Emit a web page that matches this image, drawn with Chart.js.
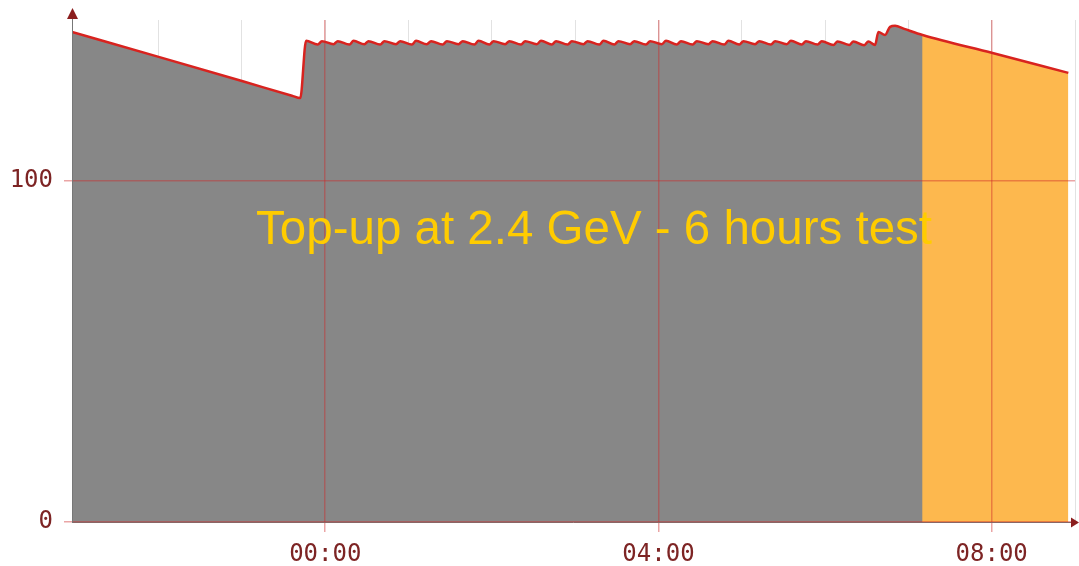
<!DOCTYPE html>
<html>
<head>
  <meta charset="UTF-8">
  <title>Top-up at 2.4 GeV</title>
  <script src="https://cdn.jsdelivr.net/npm/chart.js"></script>
  <style>
    body { margin: 0; background: #fff; }
    #wrap { width: 1079px; height: 566px; }
  </style>
</head>
<body>
  <div id="wrap"><canvas id="beamChart" width="1079" height="566"></canvas></div>

  <script>
    // Time in hours relative to 00:00, beam current (mA)
    const hours = [
      -3.04, -2.00, -1.00, -0.40, -0.30, -0.23,
      -0.09, -0.04, 0.10, 0.15, 0.29, 0.34, 0.47, 0.52, 0.66, 0.71, 0.85, 0.90,
      1.04, 1.09, 1.22, 1.27, 1.41, 1.46, 1.60, 1.65, 1.79, 1.84, 1.97, 2.02,
      2.16, 2.21, 2.35, 2.40, 2.54, 2.59, 2.72, 2.77, 2.91, 2.96, 3.10, 3.15,
      3.29, 3.34, 3.47, 3.52, 3.66, 3.71, 3.85, 3.90, 4.04, 4.09, 4.22, 4.27,
      4.41, 4.46, 4.60, 4.65, 4.79, 4.84, 4.97, 5.02, 5.16, 5.21, 5.35, 5.40,
      5.54, 5.59, 5.72, 5.77, 5.91, 5.96, 6.10, 6.15, 6.29, 6.34, 6.47, 6.52,
      6.60, 6.64, 6.72, 6.78, 6.84, 6.95, 7.17, 8.01, 8.92
    ];
    const current = [
      143.7, 136.4, 129.3, 125.0, 124.3, 141.1,
      140.0, 141.0, 140.1, 141.0, 140.0, 141.1, 140.1, 141.0, 140.0, 141.0, 140.1, 141.0,
      140.0, 141.1, 140.1, 141.0, 140.0, 141.0, 140.1, 141.0, 140.0, 141.1, 140.0, 141.0,
      140.1, 141.0, 140.0, 141.0, 140.1, 141.1, 140.0, 141.0, 140.0, 141.0, 140.1, 141.0,
      140.0, 141.1, 140.0, 141.0, 140.1, 141.0, 140.0, 141.0, 140.1, 141.1, 140.0, 141.0,
      140.0, 141.0, 140.1, 141.0, 140.0, 141.1, 140.0, 141.0, 140.1, 141.0, 140.0, 141.0,
      140.1, 141.1, 140.0, 141.0, 140.0, 141.0, 139.9, 140.9, 139.9, 140.9, 139.8, 140.9,
      139.9, 143.7, 142.8, 145.2, 145.5, 144.6, 142.8, 137.5, 131.7
    ];
    const testStart = 7.17;           // end of normal run, start of highlighted part
    const majorHours = [0, 4, 8];
    const minorHours = [-2, -1, 0, 1, 2, 3, 4, 5, 6, 7, 8, 9];
    const yTicks = [0, 100];
    const xMin = -3.04, xMax = 9.0, yMax = 147.2;
    const noteText = "Top-up at 2.4 GeV - 6 hours test";
    const notePos = { x: -0.83, y: 81.5 };

    const tickColor = "#7d2424";
    const majorGrid = "rgba(205, 40, 40, 0.42)";

    const allPoints = hours.map((h, i) => ({ x: h, y: current[i] }));
    const runPoints = allPoints.filter(p => p.x <= testStart);

    function hhmm(v) {
      const h = ((v % 24) + 24) % 24;
      return String(h).padStart(2, "0") + ":00";
    }

    // arrows on the axes and the note text
    const decorations = {
      id: "decorations",
      afterDraw(chart) {
        const ctx = chart.ctx;
        const a = chart.chartArea;
        ctx.save();
        ctx.strokeStyle = "#777";
        ctx.lineWidth = 1;
        ctx.beginPath();
        ctx.moveTo(a.left + 0.5, a.top);
        ctx.lineTo(a.left + 0.5, 14);
        ctx.stroke();
        ctx.fillStyle = "#8b1e1e";
        ctx.beginPath();
        ctx.moveTo(a.left + 0.5, 8);
        ctx.lineTo(a.left - 5, 19);
        ctx.lineTo(a.left + 6, 19);
        ctx.closePath();
        ctx.fill();
        ctx.beginPath();
        ctx.moveTo(1079, a.bottom + 0.5);
        ctx.lineTo(1071, a.bottom - 4.5);
        ctx.lineTo(1071, a.bottom + 5.5);
        ctx.closePath();
        ctx.fill();

        const xs = chart.scales.x, ys = chart.scales.y;
        ctx.fillStyle = "#ffcc00";
        ctx.font = "47.5px 'Liberation Sans', Arial, sans-serif";
        ctx.textBaseline = "alphabetic";
        ctx.fillText(noteText, xs.getPixelForValue(notePos.x), ys.getPixelForValue(notePos.y));
        ctx.restore();
      }
    };

    new Chart(document.getElementById("beamChart"), {
      type: "line",
      data: {
        datasets: [
          {
            // beam current trace
            data: allPoints,
            borderColor: "#d8231f",
            borderWidth: 2.5,
            pointRadius: 0,
            cubicInterpolationMode: "monotone",
            fill: false,
            order: 0
          },
          {
            // normal run, grey
            data: runPoints,
            borderWidth: 0,
            pointRadius: 0,
            cubicInterpolationMode: "monotone",
            backgroundColor: "#878787",
            fill: "origin",
            order: 1
          },
          {
            // test period, orange (grey covers the earlier part)
            data: allPoints,
            borderWidth: 0,
            pointRadius: 0,
            cubicInterpolationMode: "monotone",
            backgroundColor: "#fdb84e",
            fill: "origin",
            order: 2
          }
        ]
      },
      options: {
        responsive: false,
        animation: false,
        layout: { padding: { top: 20, right: 4, left: 0, bottom: 0 } },
        plugins: { legend: { display: false }, tooltip: { enabled: false } },
        scales: {
          x: {
            type: "linear",
            min: xMin,
            max: xMax,
            afterBuildTicks: s => { s.ticks = majorHours.map(v => ({ value: v })); },
            afterFit: s => { s.height = 44; s.paddingLeft = 0; s.paddingRight = 0; },
            grid: { color: majorGrid, z: 1, lineWidth: 1.5, tickLength: 10, tickColor: majorGrid },
            border: { color: "#777", z: 1 },
            ticks: {
              color: tickColor,
              font: { family: "'DejaVu Sans Mono', monospace", size: 24 },
              padding: 8,
              maxRotation: 0,
              callback: v => hhmm(v)
            }
          },
          xMinor: {
            type: "linear",
            position: "bottom",
            min: xMin,
            max: xMax,
            afterBuildTicks: s => { s.ticks = minorHours.map(v => ({ value: v })); },
            afterFit: s => { s.height = 0; s.paddingLeft = 0; s.paddingRight = 0; },
            grid: { color: "#e2e2e2", tickLength: 5, tickColor: "#ddd" },
            border: { display: false },
            ticks: { display: false }
          },
          y: {
            min: 0,
            max: yMax,
            afterBuildTicks: s => { s.ticks = yTicks.map(v => ({ value: v })); },
            afterFit: s => { s.width = 72; s.paddingTop = 0; s.paddingBottom = 0; },
            grid: { color: majorGrid, z: 1, lineWidth: 1.5, tickLength: 8, tickColor: majorGrid },
            border: { color: "#777", z: 1 },
            ticks: {
              color: tickColor,
              font: { family: "'DejaVu Sans Mono', monospace", size: 24 },
              padding: 11
            }
          }
        }
      },
      plugins: [decorations]
    });
  </script>
</body>
</html>
